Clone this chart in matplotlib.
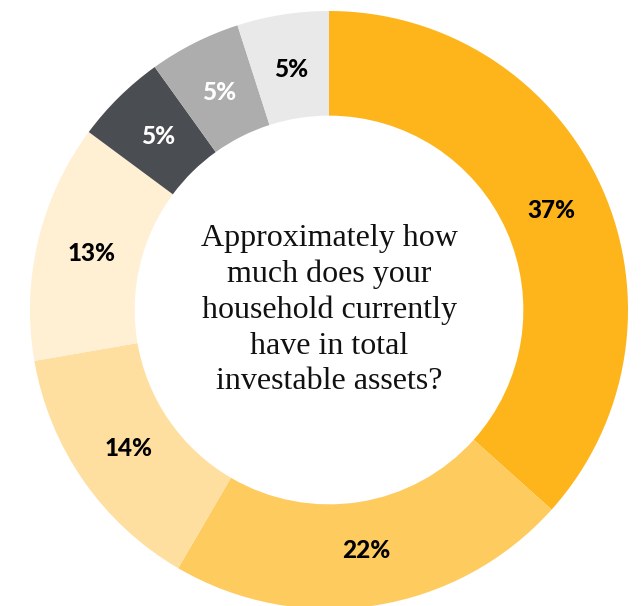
import matplotlib.pyplot as plt

# --- Data ---
labels = ['37%', '22%', '14%', '13%', '5%', '5%', '5%']
values = [37, 22, 14, 13, 5, 5, 5]
colors = ['#FDB51B', '#FECB5F', '#FEDF9F', '#FFEFD3', '#4A4D52', '#ADADAD', '#E9E9E9']
label_colors = ['black', 'black', 'black', 'black', 'white', 'white', 'black']
question = "Approximately how\nmuch does your\nhousehold currently\nhave in total\ninvestable assets?"

# --- Figure ---
W, H = 641, 606
cx, cy, R = 329, 310, 299  # pixel center and outer radius
fig = plt.figure(figsize=(W / 100, H / 100), dpi=100)
ax = fig.add_axes([0, 0, 1, 1])

wedges, texts = ax.pie(
    values,
    labels=labels,
    colors=colors,
    startangle=90,
    counterclock=False,
    radius=1,
    labeldistance=0.815,
    wedgeprops=dict(width=0.35, linewidth=0),
    textprops=dict(fontsize=17.5, fontweight='black', family='Lato',
                   ha='center', va='center'),
)
for t, c in zip(texts, label_colors):
    t.set_color(c)

ax.text(0, 0.0, question, ha='center', va='center', fontsize=23,
        family='Liberation Serif', linespacing=1.3, color='#111111')

ax.set_aspect('auto')
ax.set_xlim(-cx / R, (W - cx) / R)
ax.set_ylim(-(H - cy) / R, cy / R)
ax.axis('off')

fig.savefig('out.png', dpi=100)
